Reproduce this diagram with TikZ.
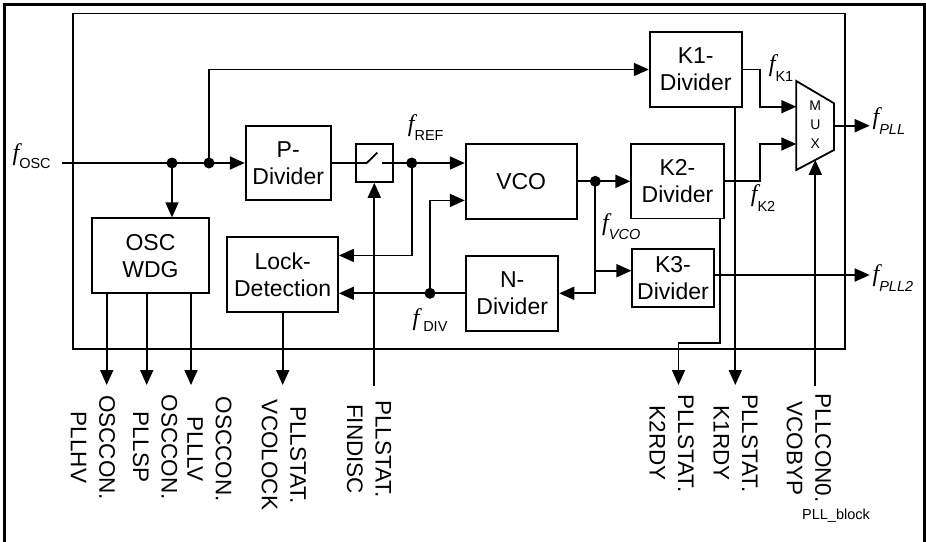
\documentclass[tikz,border=0pt]{standalone}
\usepackage{fontspec}
\setmainfont{Liberation Sans}
\newfontfamily\tnr{Liberation Serif}
\usetikzlibrary{arrows.meta}
\newcommand\fsig[2][8]{{\fontsize{24}{24}\selectfont\tnr\itshape f}\raisebox{-#1pt}{\fontsize{14.5}{14.5}\selectfont #2}}
\begin{document}
\begin{tikzpicture}[x=1pt,y=-1pt,line width=1.8pt,
  box/.style={draw,line width=1.8pt,inner sep=0pt,align=center,font=\fontsize{23}{26.7}\selectfont},
  arr/.style={-{Triangle[length=15pt,width=13pt]}},
  lbl/.style={rotate=-90,align=center,inner sep=0pt,font=\fontsize{22.5}{28.5}\selectfont},
  flab/.style={anchor=base west,inner sep=0pt},
  mux/.style={inner sep=0pt,font=\fontsize{14}{14}\selectfont}]
\useasboundingbox (0,0) rectangle (926,541);
\draw[line width=3pt] (4.5,4.5) rectangle (924.5,545);
\draw (73,13.5) rectangle (844.7,349);
% blocks
\node[box,minimum width=85pt,minimum height=74.7pt] (P) at (288.2,163) {P-\\Divider};
\node[box,minimum width=117.6pt,minimum height=75pt] (WDG) at (150.5,255.8) {OSC\\WDG};
\node[box,minimum width=110.7pt,minimum height=74.4pt] (LD) at (282.7,274.5) {Lock-\\Detection};
\node[box,minimum width=36.7pt,minimum height=37.7pt] (SW) at (374.3,163) {};
\node[box,minimum width=111pt,minimum height=74.7pt] (VCO) at (521.2,181.3) {VCO};
\node[box,minimum width=92.3pt,minimum height=74.7pt] (N) at (512.2,293.3) {N-\\Divider};
\node[box,minimum width=92pt,minimum height=74.4pt] (K1) at (695.7,69.5) {K1-\\Divider};
\node[box,minimum width=92.4pt,minimum height=74.3pt] (K2) at (677.5,181.3) {K2-\\Divider};
\node[box,minimum width=81.4pt,minimum height=58pt] (K3) at (673,278.3) {K3-\\Divider};
% mux
\draw (796.3,81) -- (834,103.3) -- (834,150) -- (796.3,170) -- cycle;
\node[mux] (mM) at (815.3,106) {M};
\node[mux] (mU) at (815.3,124.5) {U};
\node[mux] (mX) at (815.3,144) {X};
\coordinate (mi1) at (796.3,106.7);
\coordinate (mi2) at (796.3,144);
\coordinate (mo) at (834,125.7);
\coordinate (msel) at (815.3,159.9);
% junctions
\coordinate (in0) at (62,163);
\coordinate (d1) at (172,163);
\coordinate (d2) at (209,163);
\coordinate (swa) at (366.7,163);
\coordinate (swb) at (377.3,152.7);
\coordinate (swc) at (381.7,163);
\coordinate (dR) at (411.7,163);
\coordinate (dD) at (430,293.3);
\coordinate (dV) at (595.3,181.3);
\coordinate (dK3) at (595.3,270.7);
\path (LD.north east) -- (LD.south east) coordinate[pos=0.25] (ld1);
\path (VCO.north west) -- (VCO.south west) coordinate[pos=0.75] (vi2);
% free ends
\coordinate (fP) at (869.7,125.7);
\coordinate (fP2) at (869.7,275);
\coordinate (o1) at (106.7,385);
\coordinate (o2) at (146.7,385);
\coordinate (o3) at (191,385);
\coordinate (o4) at (282.7,385);
\coordinate (c5) at (374.3,386);
\coordinate (o6) at (678.5,385);
\coordinate (o7) at (735.3,385);
\coordinate (c8) at (815.3,386);
% connectors
\draw (in0) -- (d1) -- (d2);
\draw[arr] (d2) -- (P.west);
\draw[arr] (d1) -- (d1 |- WDG.north);
\draw[arr] (d2) |- (K1.west);
\draw (P.east) -- (swa) -- (swb);
\draw (swc) -- (dR);
\draw[arr] (dR) -- (dR -| VCO.west);
\draw[arr] (dR) |- (ld1);
\draw[arr] (N.west) -- (N.west -| LD.east);
\draw[arr] (dD) |- (vi2);
\draw (VCO.east) -- (dV);
\draw[arr] (dV) -- (K2.west);
\draw[arr] (dV) |- (N.east);
\draw[arr] (dK3) -- (dK3 -| K3.west);
\draw[arr] (fP2 -| K3.east) -- (fP2);
\draw[arr] (K1.east) -| (759.7,106.7) -- (mi1);
\draw[arr] (K2.east) -| (759.7,144) -- (mi2);
\draw[arr] (mo) -- (fP);
\draw[arr] (c8) -- (msel);
\draw[arr] (c5) -- (SW.south);
\draw[arr] (o1 |- WDG.south) -- (o1);
\draw[arr] (o2 |- WDG.south) -- (o2);
\draw[arr] (o3 |- WDG.south) -- (o3);
\draw[arr] (o4 |- LD.south) -- (o4);
\draw[arr] (o7 |- K1.south) -- (o7);
\draw[arr] (720.3,0 |- K2.south) -- (720.3,343) -- (678.5,343) -- (o6);
% dots
\foreach \p in {d1,d2,dR,dD,dV} \fill (\p) circle (5.5pt);
% signal labels
\node[flab] (lOSC) at (11.7,160) {\fsig[8]{OSC}};
\node[flab] (lREF) at (407,131) {\fsig[9.5]{REF}};
\node[flab] (lK1) at (768,71) {\fsig[10]{K1}};
\node[flab] (lK2) at (750,201) {\fsig[10]{K2}};
\node[flab] (lVCO) at (601.3,230) {\fsig[9]{\itshape VCO}};
\node[flab] (lDIV) at (411.7,325) {\fsig[6]{\hspace{4pt}DIV}};
\node[flab] (lPLL) at (871.7,124) {\fsig[10]{\itshape PLL}};
\node[flab] (lPLL2) at (871.7,281) {\fsig[10]{\itshape PLL2}};
% register labels
\node[lbl] (l1) at (93,447.5) {OSCCON.\\PLLHV};
\node[lbl] (l2) at (155,447) {OSCCON.\\PLLSP};
\node[lbl] (l3) at (209.6,449) {OSCCON.\\PLLLV};
\node[lbl] (l4) at (283.8,455) {PLLSTAT.\\VCOLOCK};
\node[lbl] (l5) at (369.2,449) {PLLSTAT.\\FINDISC};
\node[lbl] (l6) at (671.7,443.3) {PLLSTAT.\\K2RDY};
\node[lbl] (l7) at (735.8,443.3) {PLLSTAT.\\K1RDY};
\node[lbl] (l8) at (808.8,448.3) {PLLCON0.\\VCOBYP};
\node[inner sep=0pt,font=\fontsize{14.5}{14.5}\selectfont] (cap) at (836,516) {PLL\_block};
\end{tikzpicture}
\end{document}
